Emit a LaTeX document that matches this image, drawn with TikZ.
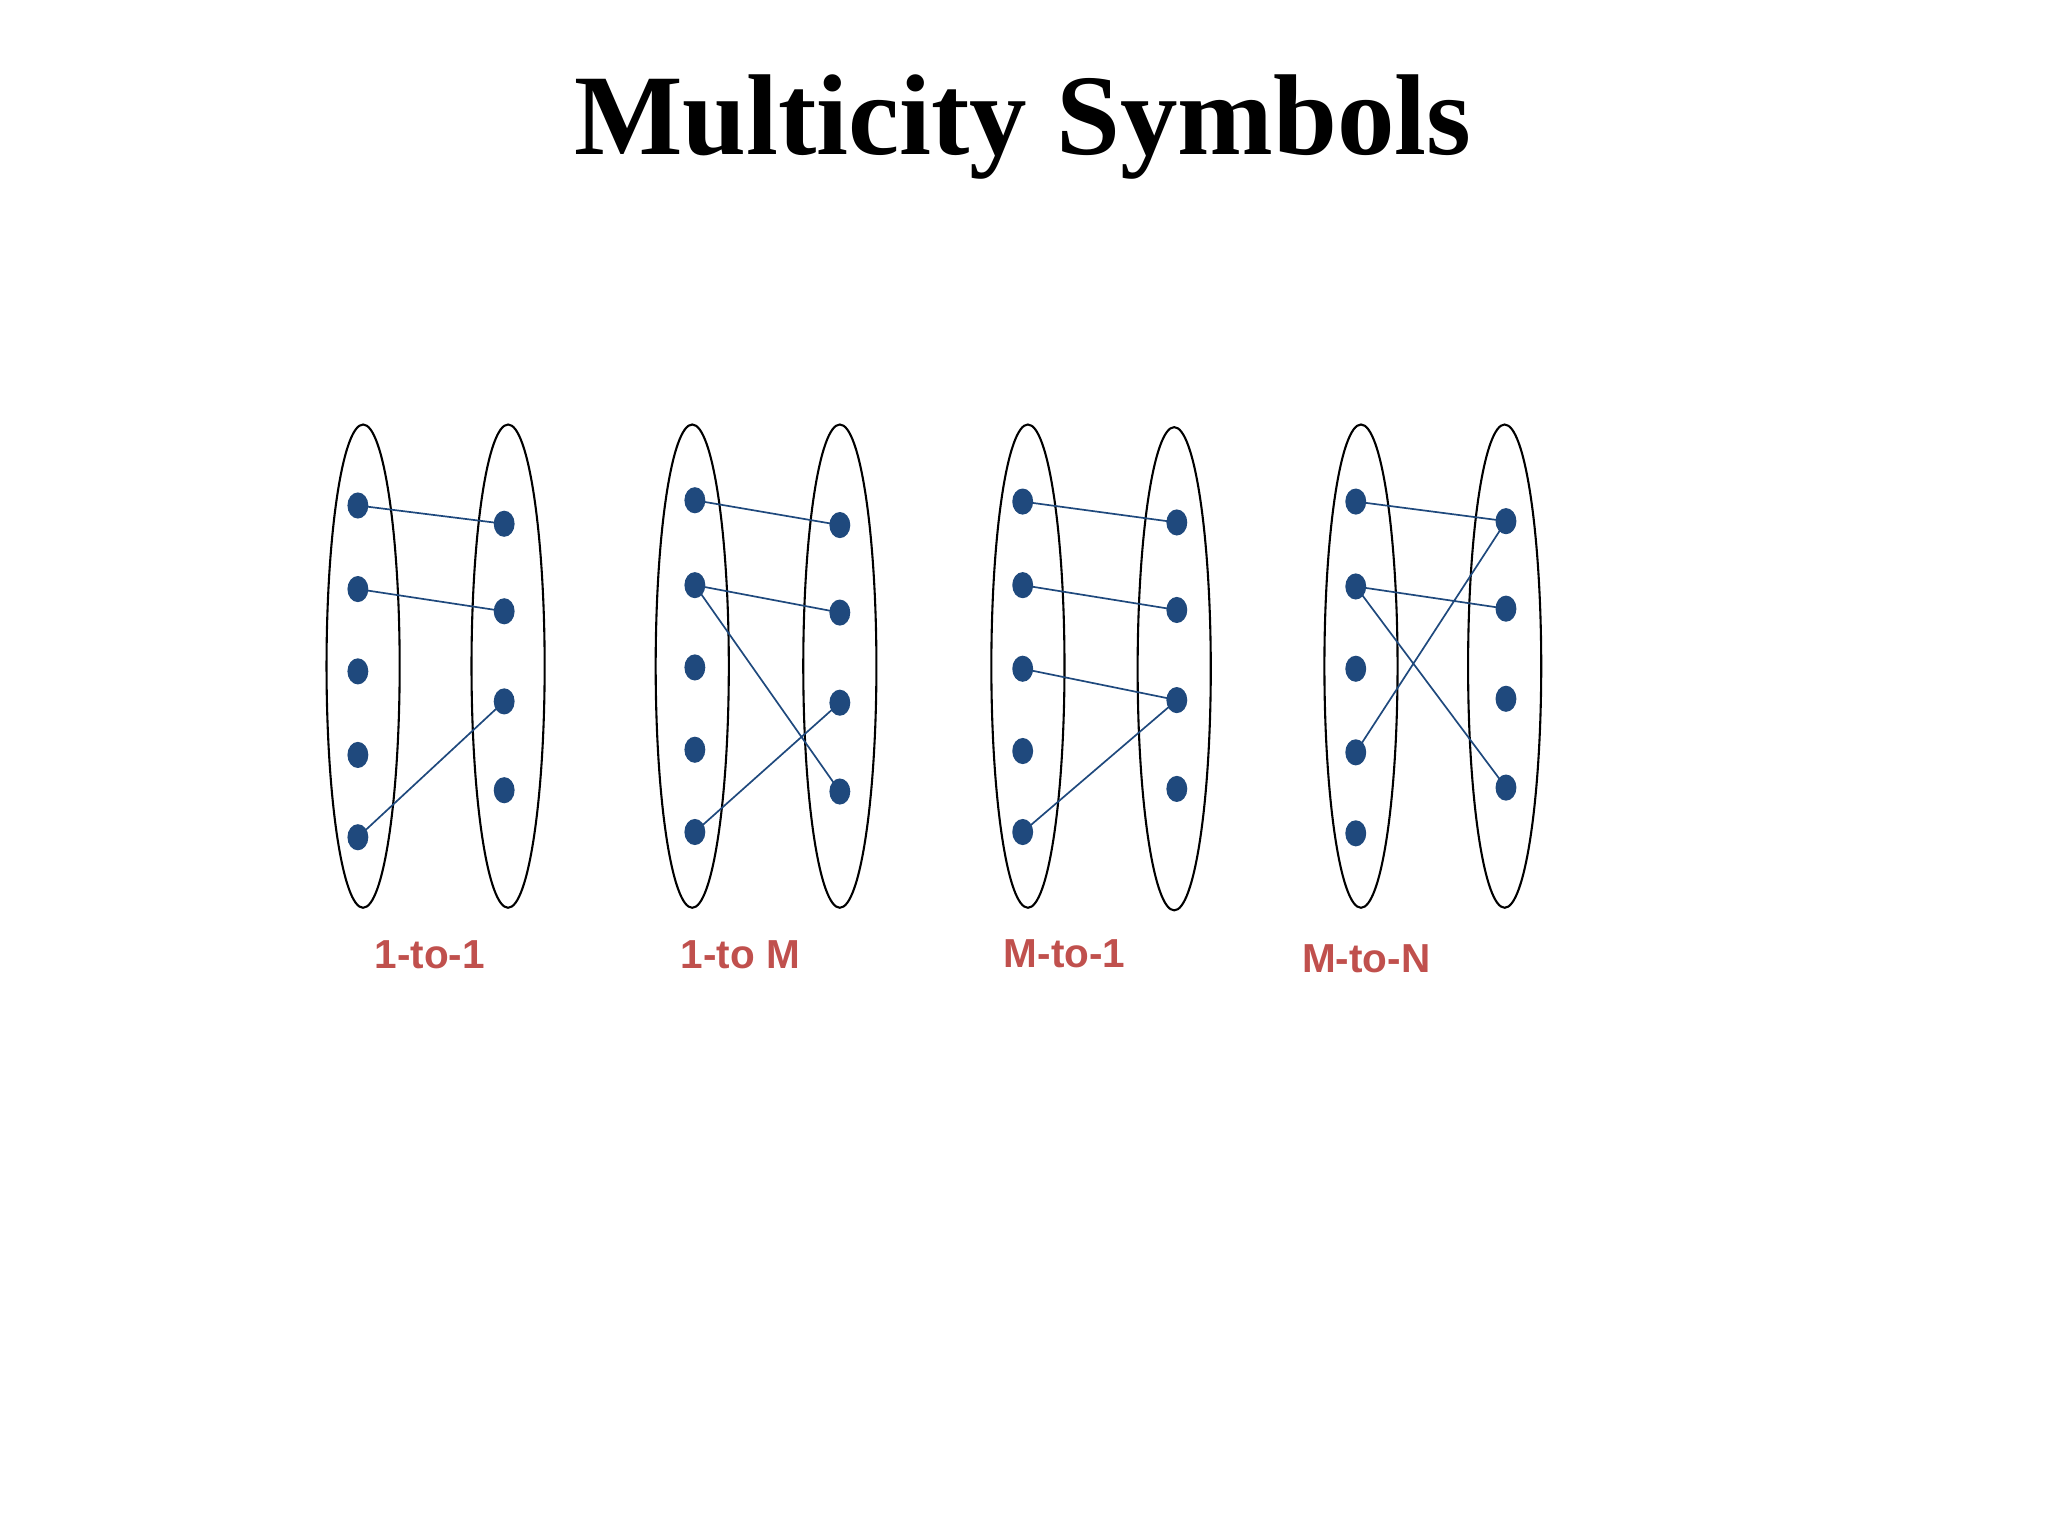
\documentclass[tikz,border=0pt]{standalone}
\usepackage{fontspec}
\setmainfont{Liberation Serif}
\newfontfamily\lab{Liberation Sans}
\usetikzlibrary{shapes.geometric}
\definecolor{dotc}{HTML}{1F497D}
\definecolor{labc}{HTML}{C0504D}
\tikzset{
 dotn/.style={ellipse,fill=dotc,inner sep=0pt,minimum width=16pt,minimum height=20pt},
 setn/.style={ellipse,draw=black,line width=1.6pt,inner sep=0pt,minimum width=56pt,minimum height=370pt},
 edge/.style={draw=dotc,line width=1.3pt},
 lbl/.style={font=\lab\bfseries\fontsize{31}{31}\selectfont,text=labc}
}
\begin{document}
\begin{tikzpicture}[x=1pt,y=-1pt]
\useasboundingbox (0,0) rectangle (1568,1176);
\node[font=\bfseries\fontsize{88}{88}\selectfont] (title) at (783,97) {Multicity Symbols};
% set 1
\node[setn] (s1a) at (278,510) {};
\node[setn] (s1b) at (389,510) {};
\foreach \i/\y in {1/387,2/451,3/514,4/578,5/641} \node[dotn] (a1\i) at (274,\y) {};
\foreach \i/\y in {1/401,2/468,3/537,4/605} \node[dotn] (b1\i) at (386,\y) {};
\draw[edge] (a11.center)--(b11.center) (a12.center)--(b12.center) (a15.center)--(b13.center);
% set 2
\node[setn] (s2a) at (530,510) {};
\node[setn] (s2b) at (643,510) {};
\foreach \i/\y in {1/383,2/448,3/511,4/574,5/637} \node[dotn] (a2\i) at (532,\y) {};
\foreach \i/\y in {1/402,2/469,3/538,4/606} \node[dotn] (b2\i) at (643,\y) {};
\draw[edge] (a21.center)--(b21.center) (a22.center)--(b22.center) (a22.center)--(b24.center) (a25.center)--(b23.center);
% set 3
\node[setn] (s3a) at (787,510) {};
\node[setn] (s3b) at (899,512) {};
\foreach \i/\y in {1/384,2/448,3/512,4/575,5/637} \node[dotn] (a3\i) at (783,\y) {};
\foreach \i/\y in {1/400,2/467,3/536,4/604} \node[dotn] (b3\i) at (901,\y) {};
\draw[edge] (a31.center)--(b31.center) (a32.center)--(b32.center) (a33.center)--(b33.center) (a35.center)--(b33.center);
% set 4
\node[setn] (s4a) at (1042,510) {};
\node[setn] (s4b) at (1152,510) {};
\foreach \i/\y in {1/384,2/449,3/512,4/576,5/638} \node[dotn] (a4\i) at (1038,\y) {};
\foreach \i/\y in {1/399,2/466,3/535,4/603} \node[dotn] (b4\i) at (1153,\y) {};
\draw[edge] (a41.center)--(b41.center) (a42.center)--(b42.center) (a42.center)--(b44.center) (a44.center)--(b41.center);
% labels
\node[lbl] (l1) at (329,731) {1-to-1};
\node[lbl] (l2) at (567,731) {1-to M};
\node[lbl] (l3) at (815,730) {M-to-1};
\node[lbl] (l4) at (1046,734) {M-to-N};
\end{tikzpicture}
\end{document}
